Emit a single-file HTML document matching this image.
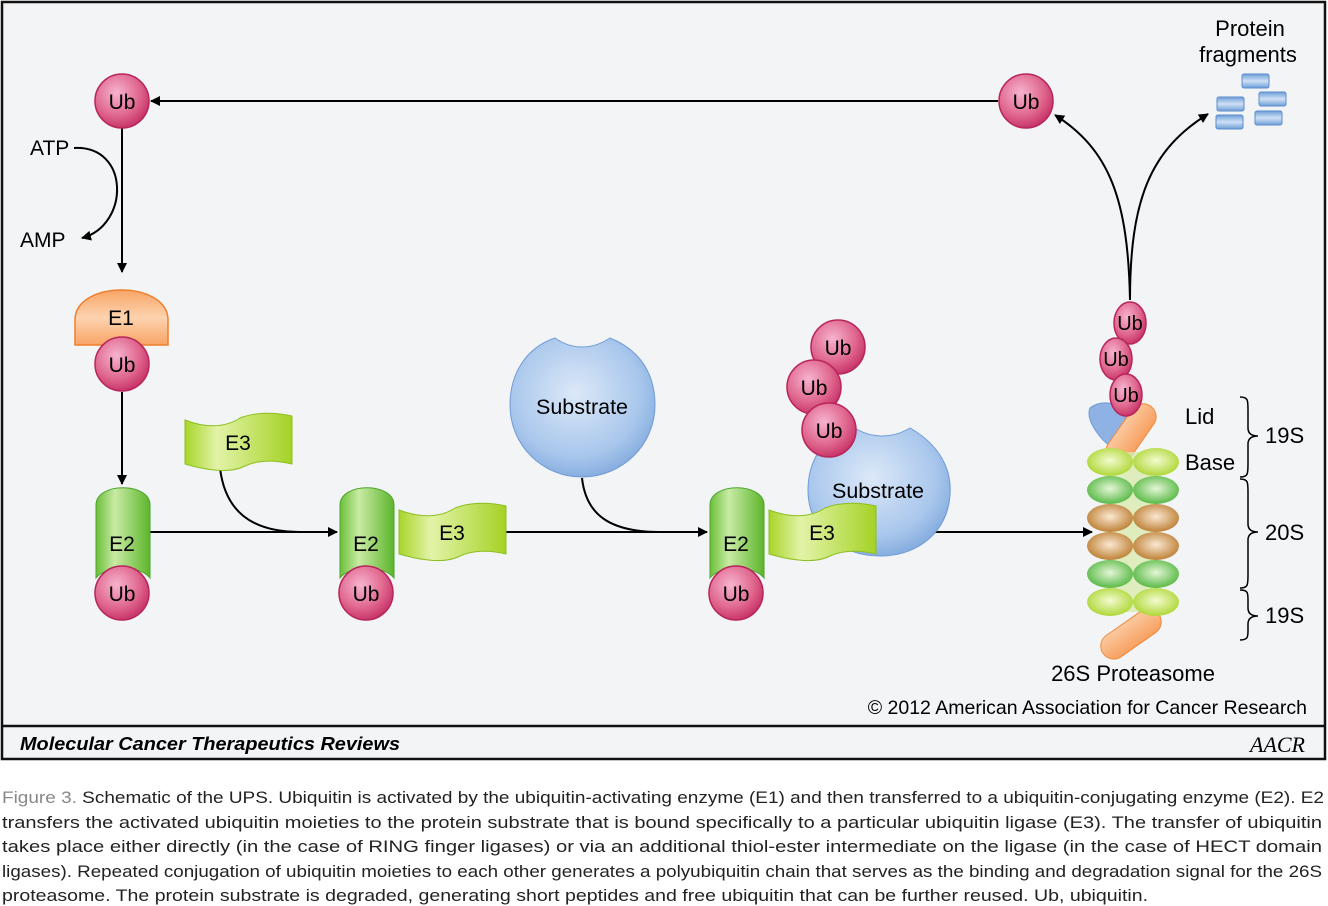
<!DOCTYPE html>
<html><head><meta charset="utf-8"><style>
html,body{margin:0;padding:0;background:#fff;}
svg{display:block;font-family:"Liberation Sans",Arial,sans-serif;}
</style></head><body>
<svg width="1328" height="906" viewBox="0 0 1328 906">
<defs>
<radialGradient id="ub" cx="40%" cy="35%" r="70%"><stop offset="0" stop-color="#f6b3cf"/><stop offset="0.6" stop-color="#e0688f"/><stop offset="1" stop-color="#c42d62"/></radialGradient>
<linearGradient id="e1" x1="0" y1="0" x2="0" y2="1"><stop offset="0" stop-color="#f8a465"/><stop offset="0.5" stop-color="#fdd3b0"/><stop offset="1" stop-color="#f8a465"/></linearGradient>
<linearGradient id="e2" x1="0" y1="0" x2="1" y2="0"><stop offset="0" stop-color="#6cbf3a"/><stop offset="0.35" stop-color="#c8eba4"/><stop offset="1" stop-color="#5db52c"/></linearGradient>
<linearGradient id="e3" x1="0" y1="0" x2="1" y2="0"><stop offset="0" stop-color="#a8d52a"/><stop offset="0.3" stop-color="#e2f3a8"/><stop offset="1" stop-color="#a5d225"/></linearGradient>
<radialGradient id="sub" cx="45%" cy="40%" r="65%"><stop offset="0" stop-color="#dce9f8"/><stop offset="0.7" stop-color="#a8c6ec"/><stop offset="1" stop-color="#7ea7db"/></radialGradient>
<radialGradient id="lime" cx="50%" cy="45%" r="60%"><stop offset="0" stop-color="#f3fbd0"/><stop offset="1" stop-color="#a9d42a"/></radialGradient>
<radialGradient id="grn" cx="50%" cy="45%" r="60%"><stop offset="0" stop-color="#e4f6d6"/><stop offset="1" stop-color="#4db43a"/></radialGradient>
<radialGradient id="brn" cx="50%" cy="45%" r="60%"><stop offset="0" stop-color="#fbe8d2"/><stop offset="1" stop-color="#b87828"/></radialGradient>
<linearGradient id="frag" x1="0" y1="0" x2="0" y2="1"><stop offset="0" stop-color="#6e9ed8"/><stop offset="0.5" stop-color="#cfe0f5"/><stop offset="1" stop-color="#6e9ed8"/></linearGradient>
<linearGradient id="orng" x1="0" y1="0" x2="1" y2="0"><stop offset="0" stop-color="#fbc9a0"/><stop offset="1" stop-color="#f7a060"/></linearGradient>
<marker id="ar" markerWidth="10" markerHeight="10" refX="9" refY="5" orient="auto" markerUnits="userSpaceOnUse"><path d="M0,0 L10,5 L0,10 z" fill="#000"/></marker>
</defs>

<rect x="2" y="2" width="1323" height="757" fill="#f2f4f6" stroke="#111" stroke-width="2.5"/>
<line x1="2" y1="726" x2="1325" y2="726" stroke="#111" stroke-width="2.5"/>
<text x="20" y="750" font-size="18" font-weight="bold" font-style="italic" textLength="380" lengthAdjust="spacingAndGlyphs">Molecular Cancer Therapeutics Reviews</text>
<text x="1305" y="752" font-size="22" font-style="italic" font-family="Liberation Serif" text-anchor="end">AACR</text>

<g fill="none" stroke="#000" stroke-width="2">
<line x1="998" y1="101" x2="151" y2="101" marker-end="url(#ar)"/>
<line x1="122" y1="128" x2="122" y2="272" marker-end="url(#ar)"/>
<path d="M74,148 C130,145 130,225 82,238" marker-end="url(#ar)"/>
<line x1="122" y1="392" x2="122" y2="484" marker-end="url(#ar)"/>
<line x1="150" y1="532" x2="337" y2="532" marker-end="url(#ar)"/>
<path d="M220,468 C225,510 250,532 300,532"/>
<line x1="506" y1="532" x2="707" y2="532" marker-end="url(#ar)"/>
<path d="M582,478 C586,515 610,532 660,532"/>
<line x1="930" y1="532" x2="1092" y2="532" marker-end="url(#ar)"/>
<path d="M1130,300 C1128,200 1110,150 1055,115" marker-end="url(#ar)"/>
<path d="M1130,300 C1130,200 1150,150 1208,114" marker-end="url(#ar)"/>
</g>

<text x="30" y="155" font-size="21">ATP</text>
<text x="20" y="247" font-size="21">AMP</text>

<path d="M75,345 L75,320 C75,280 168,280 168,320 L168,345 Z" fill="url(#e1)" stroke="#f07f2a" stroke-width="1.5"/>
<text x="121" y="325" font-size="21" text-anchor="middle">E1</text>

<g><path d="M96,578 L96,505 C96,482 150,482 150,505 L150,578 C140,565 106,565 96,578Z" fill="url(#e2)" stroke="#4aa52a"/><text x="122" y="551" font-size="21" text-anchor="middle">E2</text></g>
<g><path d="M340,578 L340,505 C340,482 394,482 394,505 L394,578 C384,565 350,565 340,578Z" fill="url(#e2)" stroke="#4aa52a"/><text x="366" y="551" font-size="21" text-anchor="middle">E2</text></g>
<g><path d="M710,578 L710,505 C710,482 764,482 764,505 L764,578 C754,565 720,565 710,578Z" fill="url(#e2)" stroke="#4aa52a"/><text x="736" y="551" font-size="21" text-anchor="middle">E2</text></g>

<g><path d="M185,420 C205,428 225,428 240,418 C255,412 275,412 292,416 L292,464 C275,460 258,460 245,466 C230,474 205,470 185,464Z" fill="url(#e3)" stroke="#8cbf1f"/><text x="238" y="450" font-size="21" text-anchor="middle">E3</text></g>
<g><path d="M399,510 C420,518 440,518 455,508 C470,502 490,502 506,506 L506,554 C490,550 473,550 460,556 C445,564 420,560 399,554Z" fill="url(#e3)" stroke="#8cbf1f"/><text x="452" y="540" font-size="21" text-anchor="middle">E3</text></g>

<g><path d="M555,338 C572,350 592,350 610,338 C645,352 655,380 655,405 C655,445 622,477 582,477 C542,477 510,445 510,405 C510,375 525,348 555,338Z" fill="url(#sub)" stroke="#6f9bd6"/><text x="582" y="414" font-size="21.5" text-anchor="middle">Substrate</text></g>
<g><path d="M850,425 C868,438 890,440 910,428 C940,445 952,470 950,495 C948,530 920,556 880,556 C840,556 808,530 808,490 C808,460 825,435 850,425Z" fill="url(#sub)" stroke="#6f9bd6"/><text x="878" y="498" font-size="21.5" text-anchor="middle">Substrate</text></g>
<g><path d="M769,510 C790,518 810,518 825,508 C840,502 860,502 876,506 L876,554 C860,550 843,550 830,556 C815,564 790,560 769,554Z" fill="url(#e3)" stroke="#8cbf1f"/><text x="822" y="540" font-size="21" text-anchor="middle">E3</text></g>

<g stroke="#b8255a" stroke-width="1.5" fill="url(#ub)">
<circle cx="122" cy="101" r="27"/><circle cx="1026" cy="101" r="27"/>
<circle cx="122" cy="364" r="27"/><circle cx="122" cy="593" r="27"/>
<circle cx="366" cy="593" r="27"/><circle cx="736" cy="593" r="27"/>
<circle cx="838" cy="347" r="27"/><circle cx="814" cy="387" r="27"/><circle cx="829" cy="430" r="27"/>
</g>
<g font-size="21" text-anchor="middle">
<text x="122" y="109">Ub</text><text x="1026" y="109">Ub</text><text x="122" y="372">Ub</text><text x="122" y="601">Ub</text><text x="366" y="601">Ub</text><text x="736" y="601">Ub</text><text x="838" y="355">Ub</text><text x="814" y="395">Ub</text><text x="829" y="438">Ub</text>
</g>

<g>
<path d="M1090,408 C1100,400 1115,402 1128,410 L1115,450 C1100,440 1085,420 1090,408Z" fill="#8fb2e4" stroke="#6f9bd6"/>
<rect x="1118" y="400" width="26" height="68" rx="13" fill="url(#orng)" stroke="#f08a3a" transform="rotate(35 1131 434)"/>
<rect x="1118" y="600" width="26" height="68" rx="13" fill="url(#orng)" stroke="#f08a3a" transform="rotate(55 1131 634)"/>
<rect x="1105" y="452" width="50" height="160" fill="#d8eab0" opacity="0.8"/>
<g stroke-width="0">
<ellipse cx="1110" cy="462" rx="23" ry="14" fill="url(#lime)"/><ellipse cx="1156" cy="462" rx="23" ry="14" fill="url(#lime)"/>
<ellipse cx="1110" cy="490" rx="23" ry="14" fill="url(#grn)"/><ellipse cx="1156" cy="490" rx="23" ry="14" fill="url(#grn)"/>
<ellipse cx="1110" cy="518" rx="23" ry="14" fill="url(#brn)"/><ellipse cx="1156" cy="518" rx="23" ry="14" fill="url(#brn)"/>
<ellipse cx="1110" cy="546" rx="23" ry="14" fill="url(#brn)"/><ellipse cx="1156" cy="546" rx="23" ry="14" fill="url(#brn)"/>
<ellipse cx="1110" cy="574" rx="23" ry="14" fill="url(#grn)"/><ellipse cx="1156" cy="574" rx="23" ry="14" fill="url(#grn)"/>
<ellipse cx="1110" cy="602" rx="23" ry="14" fill="url(#lime)"/><ellipse cx="1156" cy="602" rx="23" ry="14" fill="url(#lime)"/>
</g>
<g fill="url(#ub)" stroke="#b8255a" stroke-width="1.5">
<ellipse cx="1130" cy="323" rx="16" ry="21"/><ellipse cx="1116" cy="359" rx="16" ry="21"/><ellipse cx="1126" cy="395" rx="16" ry="21"/>
</g>
<g font-size="20" text-anchor="middle"><text x="1130" y="330">Ub</text><text x="1116" y="366">Ub</text><text x="1126" y="402">Ub</text></g>
</g>
<g font-size="22">
<text x="1185" y="424">Lid</text><text x="1185" y="470">Base</text>
<text x="1265" y="443">19S</text><text x="1265" y="540">20S</text><text x="1265" y="623">19S</text>
<text x="1133" y="681" text-anchor="middle">26S Proteasome</text>
</g>
<g fill="none" stroke="#000" stroke-width="1.5">
<path d="M1240,397 C1248,397 1248,400 1248,410 L1248,428 C1248,434 1252,436 1258,436 C1252,436 1248,438 1248,444 L1248,464 C1248,474 1248,477 1240,477"/>
<path d="M1240,479 C1248,479 1248,482 1248,492 L1248,524 C1248,530 1252,532 1258,532 C1252,532 1248,534 1248,540 L1248,575 C1248,585 1248,588 1240,588"/>
<path d="M1240,590 C1248,590 1248,593 1248,600 L1248,608 C1248,614 1252,616 1258,616 C1252,616 1248,618 1248,624 L1248,630 C1248,637 1248,640 1240,640"/>
</g>

<g fill="url(#frag)" stroke="#5b8ccc">
<rect x="1242" y="74" width="27" height="14" rx="2"/><rect x="1217" y="97" width="27" height="14" rx="2"/><rect x="1259" y="92" width="27" height="14" rx="2"/><rect x="1216" y="115" width="27" height="14" rx="2"/><rect x="1255" y="111" width="27" height="14" rx="2"/>
</g>
<text x="1250" y="36" font-size="22" text-anchor="middle">Protein</text>
<text x="1248" y="62" font-size="22" text-anchor="middle">fragments</text>

<text x="1307" y="714" font-size="19.5" text-anchor="end">© 2012 American Association for Cancer Research</text>

<g font-size="17" fill="#222">
<text x="2" y="803" textLength="1322" lengthAdjust="spacingAndGlyphs"><tspan fill="#888">Figure 3.</tspan>  Schematic of the UPS. Ubiquitin is activated by the ubiquitin-activating enzyme (E1) and then transferred to a ubiquitin-conjugating enzyme (E2). E2</text>
<text x="2" y="828" textLength="1320" lengthAdjust="spacingAndGlyphs">transfers the activated ubiquitin moieties to the protein substrate that is bound specifically to a particular ubiquitin ligase (E3). The transfer of ubiquitin</text>
<text x="2" y="852" textLength="1320" lengthAdjust="spacingAndGlyphs">takes place either directly (in the case of RING finger ligases) or via an additional thiol-ester intermediate on the ligase (in the case of HECT domain</text>
<text x="2" y="877" textLength="1320" lengthAdjust="spacingAndGlyphs">ligases). Repeated conjugation of ubiquitin moieties to each other generates a polyubiquitin chain that serves as the binding and degradation signal for the 26S</text>
<text x="2" y="901" textLength="1146" lengthAdjust="spacingAndGlyphs">proteasome. The protein substrate is degraded, generating short peptides and free ubiquitin that can be further reused. Ub, ubiquitin.</text>
</g>
</svg>
</body></html>
